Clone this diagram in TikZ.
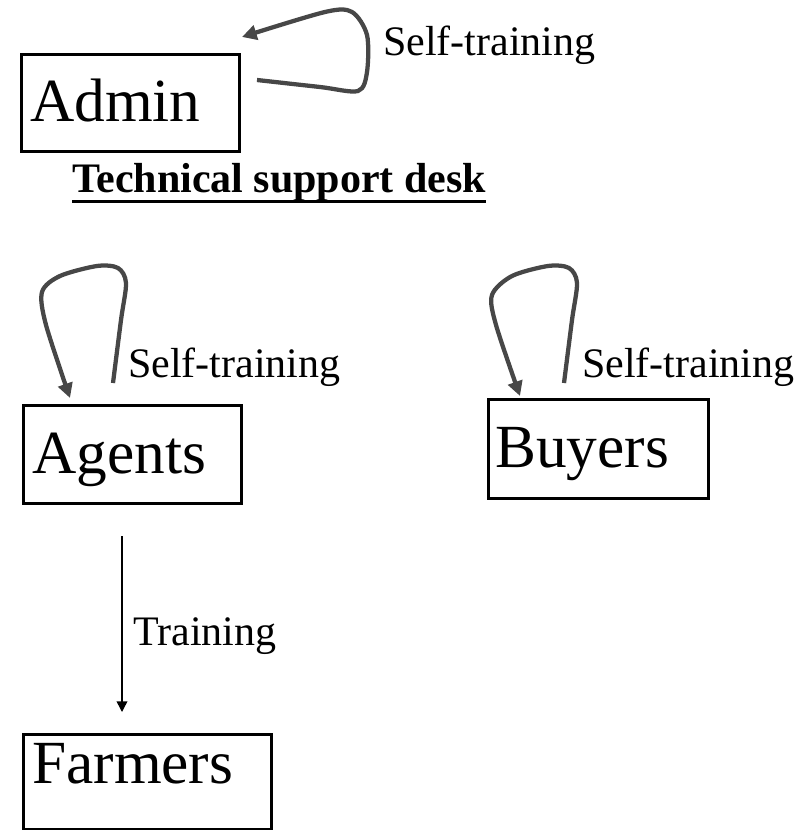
\documentclass[tikz,border=0pt]{standalone}
\usepackage{fontspec}
\setmainfont{Liberation Serif}
\usetikzlibrary{arrows.meta,calc}
\begin{document}
\begin{tikzpicture}[x=0.75pt,y=-0.75pt,
  box/.style={draw,line width=2.25pt,inner sep=0pt,anchor=north west},
  big/.style={anchor=base west,inner sep=0pt,font=\fontsize{46}{50}\selectfont},
  lbl/.style={anchor=base west,inner sep=0pt,font=\fontsize{31.5}{36}\selectfont},
  selfloop/.style={draw=black!72,line width=3.2pt,-{Triangle[length=11pt,width=11pt]}},
  train/.style={draw,line width=1.1pt,-{Triangle[length=8pt,width=8pt]}}]
\useasboundingbox (0,0) rectangle (811,830);
% boxes
\node[box,minimum width=218*0.75pt,minimum height=97*0.75pt] (adminbox) at (20,53) {};
\node[box,minimum width=218*0.75pt,minimum height=98*0.75pt] (agentsbox) at (22,404) {};
\node[box,minimum width=220*0.75pt,minimum height=99*0.75pt] (buyersbox) at (487,398) {};
\node[box,minimum width=248*0.75pt,minimum height=95*0.75pt] (farmersbox) at (22,733) {};
% texts
\node[big] (admin) at (30,122) {Admin};
\node[big] (agents) at (32,473) {Agents};
\node[big] (buyers) at (495,467) {Buyers};
\node[big] (farmers) at (32,783) {Farmers};
\node[lbl] (l1) at (383,56) {Self-training};
\node[lbl] (l2) at (128,377) {Self-training};
\node[lbl] (l3) at (582,377) {Self-training};
\node[lbl] (l4) at (133,645) {Training};
\node[lbl,font=\fontsize{31.5}{36}\selectfont\bfseries] (tsd) at (72,193) {Technical support desk};
\draw[line width=2.2pt] ([yshift=-6.5pt]tsd.base west) -- ([yshift=-6.5pt]tsd.base east);
% loops
\coordinate (a1) at (257,80);
\coordinate (a2) at (242,37);
\draw[selfloop] plot[smooth,tension=0.5] coordinates {(a1) (320,87) (358,91) (367,72) (367,35) (352,12) (325,12) (242,37)};
\coordinate (g1) at (113,383);
\coordinate (g2) at (70,398);
\draw[selfloop] plot[smooth,tension=0.5] coordinates {(g1) (121,320) (126,283) (118,268) (97,266) (60,276) (42,292) (46,325) (70,398)};
\coordinate (b1) at (564,383);
\coordinate (b2) at (520,396);
\draw[selfloop] plot[smooth,tension=0.5] coordinates {(b1) (572,320) (577,283) (569,268) (548,266) (512,276) (492,295) (496,325) (520,396)};
% training arrow
\coordinate (tx) at (122,0);
\draw[train,shorten <=31*0.75pt,shorten >=21*0.75pt] (agentsbox.south -| tx) -- (farmersbox.north -| tx);
\end{tikzpicture}
\end{document}
